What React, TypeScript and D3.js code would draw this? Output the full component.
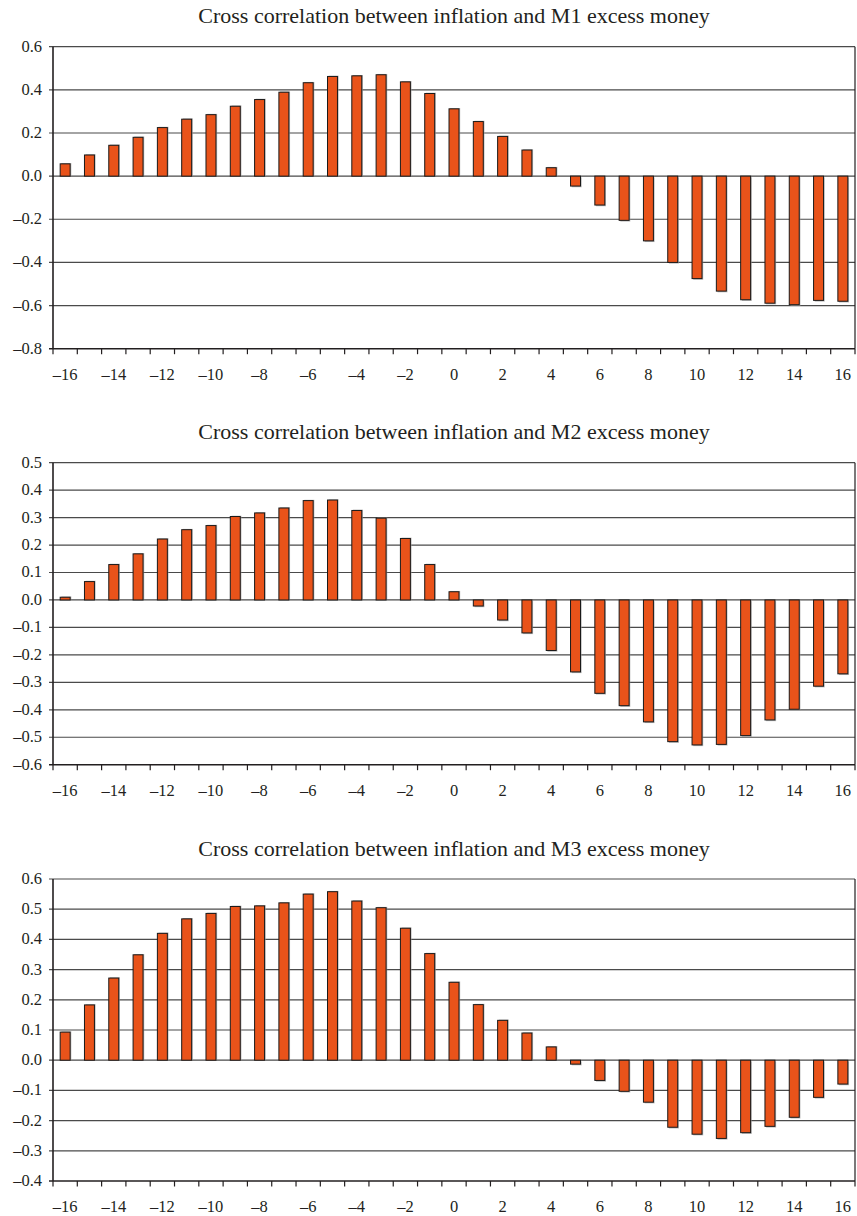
import * as d3 from 'd3';

const LAGS = [-16, -15, -14, -13, -12, -11, -10, -9, -8, -7, -6, -5, -4, -3, -2, -1, 0,
  1, 2, 3, 4, 5, 6, 7, 8, 9, 10, 11, 12, 13, 14, 15, 16];

const M1_VALUES = [0.057, 0.098, 0.143, 0.18, 0.225, 0.264, 0.285, 0.324, 0.355, 0.389, 0.433,
  0.462, 0.465, 0.47, 0.437, 0.383, 0.312, 0.253, 0.184, 0.121, 0.039, -0.046, -0.134,
  -0.205, -0.3, -0.4, -0.475, -0.533, -0.573, -0.589, -0.596, -0.576, -0.58];

const M2_VALUES = [0.01, 0.067, 0.129, 0.168, 0.222, 0.256, 0.271, 0.304, 0.317, 0.335, 0.362,
  0.364, 0.326, 0.298, 0.224, 0.129, 0.03, -0.022, -0.073, -0.12, -0.184, -0.262, -0.34,
  -0.385, -0.444, -0.516, -0.528, -0.526, -0.494, -0.437, -0.398, -0.314, -0.269];

const M3_VALUES = [0.093, 0.183, 0.272, 0.349, 0.42, 0.468, 0.486, 0.509, 0.511, 0.521, 0.55,
  0.558, 0.527, 0.505, 0.437, 0.353, 0.258, 0.184, 0.132, 0.09, 0.044, -0.013, -0.067,
  -0.103, -0.139, -0.222, -0.245, -0.259, -0.24, -0.219, -0.189, -0.123, -0.079];

const M1_TICKS = [0.6, 0.4, 0.2, 0.0, -0.2, -0.4, -0.6, -0.8];
const M2_TICKS = [0.5, 0.4, 0.3, 0.2, 0.1, 0.0, -0.1, -0.2, -0.3, -0.4, -0.5, -0.6];
const M3_TICKS = [0.6, 0.5, 0.4, 0.3, 0.2, 0.1, 0.0, -0.1, -0.2, -0.3, -0.4];

const TITLES = [
  'Cross correlation between inflation and M1 excess money',
  'Cross correlation between inflation and M2 excess money',
  'Cross correlation between inflation and M3 excess money',
];

const WIDTH = 857;
const HEIGHT = 1216;
const LEFT = 53;
const RIGHT = 855;
const PLOT_H = 302;
const TOPS = [46.7, 462.7, 879];
const FONT = '"Liberation Serif", "Times New Roman", serif';
const BAR = '#E9531A';

const fmt = (v: number) => (v < -1e-9 ? '\u2013' + Math.abs(v).toFixed(1) : Math.abs(v).toFixed(1));
const fmtLag = (v: number) => (v < 0 ? '\u2013' + Math.abs(v) : String(v));

function Panel({ title, values, ticks, top }: { title: string; values: number[]; ticks: number[]; top: number }) {
  const x = d3.scaleBand<number>()
    .domain(LAGS)
    .range([LEFT, RIGHT])
    .paddingInner(0.59)
    .paddingOuter(0.295);
  const y = d3.scaleLinear()
    .domain([d3.min(ticks)!, d3.max(ticks)!])
    .range([top + PLOT_H, top]);
  const step = x.step();
  const bw = x.bandwidth();
  const bottom = y(d3.min(ticks)!);

  return (
    <g>
      <text x={(LEFT + RIGHT) / 2} y={top - 23.5} textAnchor="middle" fontSize={22} fill="#231f20">{title}</text>

      {/* grid */}
      {ticks.slice(0, -1).map(t => (
        <line key={'g' + t} x1={LEFT - 4} x2={RIGHT} y1={y(t)} y2={y(t)} stroke="#4a4a4a" strokeWidth={1.2} />
      ))}

      {/* bars */}
      {values.map((v, i) => {
        const bx = x(LAGS[i])!;
        const y0 = y(0);
        const yv = y(v);
        const ry = Math.min(y0, yv);
        const rh = Math.abs(yv - y0);
        return (
          <g key={'b' + i}>
            <rect x={bx + 1.2} y={ry + (v >= 0 ? -0.8 : 1.2)} width={bw} height={rh} fill="#9a9a9a" opacity={0.7} />
            <rect x={bx} y={ry} width={bw} height={rh} fill={BAR} stroke="#1a1a1a" strokeWidth={1} />
          </g>
        );
      })}

      {/* frame */}
      <line x1={LEFT} x2={LEFT} y1={top} y2={bottom} stroke="#231f20" strokeWidth={1.6} />
      <line x1={RIGHT} x2={RIGHT} y1={top} y2={bottom} stroke="#231f20" strokeWidth={1.2} />
      <line x1={LEFT - 4} x2={RIGHT} y1={bottom} y2={bottom} stroke="#231f20" strokeWidth={1.6} />

      {/* x ticks at category boundaries */}
      {LAGS.concat([LAGS[LAGS.length - 1] + 1]).map((lag, i) => {
        const tx = LEFT + i * step;
        return <line key={'t' + lag} x1={tx} x2={tx} y1={bottom} y2={bottom + 5.5} stroke="#231f20" strokeWidth={1.2} />;
      })}

      {/* y labels */}
      {ticks.map(t => (
        <text key={'y' + t} x={42} y={y(t)} dy="0.3em" textAnchor="end" fontSize={16.5} fill="#231f20">{fmt(t)}</text>
      ))}

      {/* x labels */}
      {LAGS.filter(l => l % 2 === 0).map(l => (
        <text key={'x' + l} x={x(l)! + bw / 2} y={bottom + 31} textAnchor="middle" fontSize={16.5} fill="#231f20">{fmtLag(l)}</text>
      ))}
    </g>
  );
}

export default function App() {
  const series = [M1_VALUES, M2_VALUES, M3_VALUES];
  const ticks = [M1_TICKS, M2_TICKS, M3_TICKS];
  return (
    <svg
      width={WIDTH}
      height={HEIGHT}
      viewBox={`0 0 ${WIDTH} ${HEIGHT}`}
      style={{ position: 'absolute', left: 0, top: 0, background: '#fff', fontFamily: FONT }}
    >
      <rect width={WIDTH} height={HEIGHT} fill="#fff" />
      {series.map((s, i) => (
        <Panel key={i} title={TITLES[i]} values={s} ticks={ticks[i]} top={TOPS[i]} />
      ))}
    </svg>
  );
}
